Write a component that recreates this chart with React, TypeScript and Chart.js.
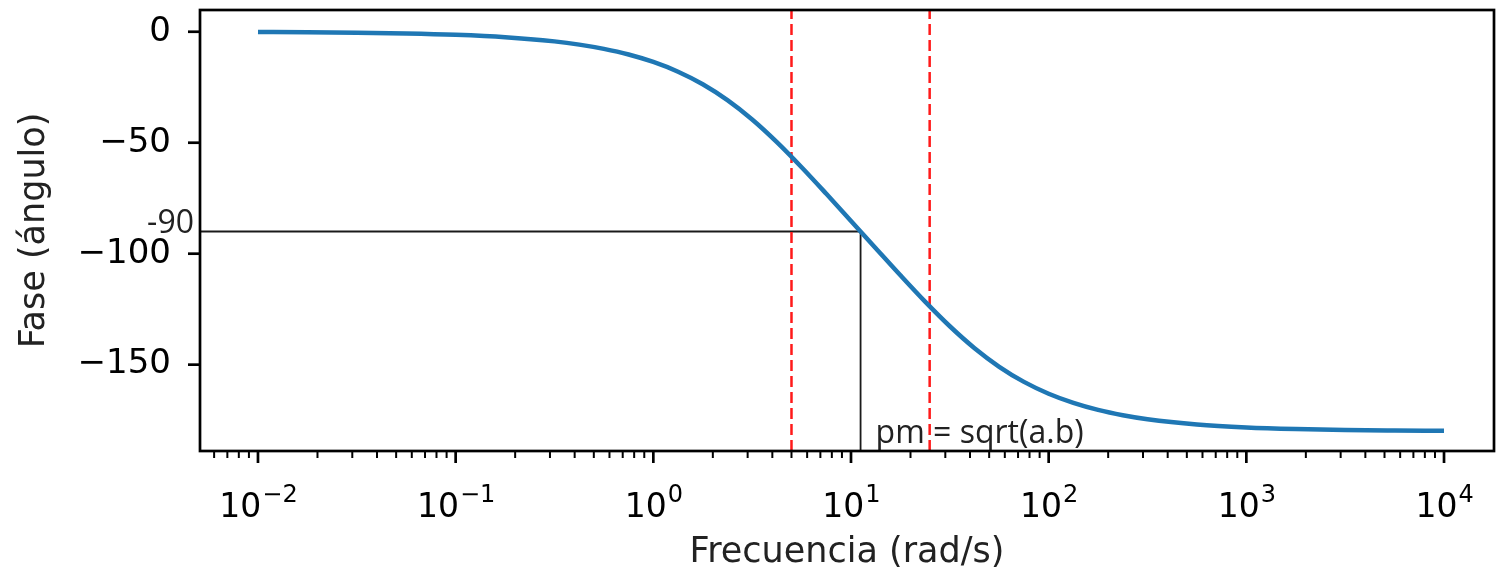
import React, { useEffect, useRef } from 'react';
import { Chart, registerables } from 'chart.js';

Chart.register(...registerables);

// Frequency (rad/s) sample points
const FREQUENCIES = [
  0.01, 0.0178, 0.0316, 0.0562, 0.1, 0.178, 0.316, 0.422, 0.562, 0.75,
  1, 1.334, 1.778, 2.371, 3.162, 4.217, 5.623, 7.5, 10, 13.34,
  17.78, 23.71, 31.62, 42.17, 56.23, 75, 100, 133.4, 177.8, 237.1,
  316.2, 562.3, 1000, 1778, 3162, 5623, 10000,
];
// Phase (degrees) read at those frequencies
const PHASE_DEG = [
  -0.14, -0.24, -0.43, -0.77, -1.38, -2.44, -4.34, -5.79, -7.71, -10.25,
  -13.6, -17.99, -23.65, -30.8, -39.52, -49.72, -61.03, -73.01, -85.24, -97.52,
  -109.72, -121.59, -132.69, -142.58, -150.95, -157.76, -163.1, -167.23, -170.39, -172.77,
  -174.57, -176.94, -178.28, -179.03, -179.46, -179.69, -179.83,
];

const X_TICKS = [0.01, 0.1, 1, 10, 100, 1000, 10000];
const X_TICK_BASE = '10';
const X_TICK_EXPONENTS = ['\u22122', '\u22121', '0', '1', '2', '3', '4'];
const Y_TICKS = [-150, -100, -50, 0];
const Y_TICK_LABELS = ['\u2212150', '\u2212100', '\u221250', '0'];

const CORNER_FREQS = [5, 25]; // a, b
const PM_FREQ = 11.18; // sqrt(a·b)
const PM_PHASE = -90;
const X_MIN = 0.00509;
const X_MAX = 17900;
const Y_MIN = -188.9;
const Y_MAX = 9.8;

const PM_LABEL = 'pm = sqrt(a.b)';
const PHASE_LABEL = '-90';
const X_TITLE = 'Frecuencia (rad/s)';
const Y_TITLE = 'Fase (\u00E1ngulo)';

const FONT = "'DejaVu Sans', sans-serif";
const NOTE_FONT = "'Open Sans', sans-serif";

const framePlugin = {
  id: 'frameTicks',
  afterDatasetsDraw(chart: any) {
    const { ctx, chartArea } = chart;
    const xs = chart.scales.x;
    const ys = chart.scales.y;
    ctx.save();
    // annotations
    ctx.fillStyle = '#222';
    ctx.font = `32px ${NOTE_FONT}`;
    ctx.textBaseline = 'alphabetic';
    ctx.textAlign = 'right';
    ctx.fillText(PHASE_LABEL, chartArea.left - 6, ys.getPixelForValue(PM_PHASE) + 2);
    ctx.textAlign = 'left';
    ctx.fillText(PM_LABEL, xs.getPixelForValue(PM_FREQ) + 15, chartArea.bottom - 8);

    // frame
    ctx.strokeStyle = '#000';
    ctx.lineWidth = 2.7;
    ctx.strokeRect(chartArea.left, chartArea.top, chartArea.right - chartArea.left, chartArea.bottom - chartArea.top);

    // y ticks
    for (const t of ys.ticks) {
      const y = ys.getPixelForValue(t.value);
      ctx.beginPath();
      ctx.moveTo(chartArea.left, y);
      ctx.lineTo(chartArea.left - 12, y);
      ctx.stroke();
    }
    // x major ticks + labels (10 with raised exponent)
    ctx.fillStyle = '#000';
    ctx.textAlign = 'left';
    xs.ticks.forEach((t: any, i: number) => {
      const x = xs.getPixelForValue(t.value);
      ctx.beginPath();
      ctx.moveTo(x, chartArea.bottom);
      ctx.lineTo(x, chartArea.bottom + 12);
      ctx.stroke();
      const exp = X_TICK_EXPONENTS[i];
      ctx.font = `33px ${FONT}`;
      const w1 = ctx.measureText(X_TICK_BASE).width;
      ctx.font = `24px ${FONT}`;
      const w2 = ctx.measureText(exp).width;
      const start = x - (w1 + w2) / 2;
      ctx.font = `33px ${FONT}`;
      ctx.fillText(X_TICK_BASE, start, chartArea.bottom + 66);
      ctx.font = `24px ${FONT}`;
      ctx.fillText(exp, start + w1 + 1, chartArea.bottom + 51);
    });
    // x minor ticks
    ctx.lineWidth = 2;
    for (let k = -3; k <= 4; k++) {
      for (let m = 2; m <= 9; m++) {
        const v = m * Math.pow(10, k);
        if (v < X_MIN || v > X_MAX) continue;
        const x = xs.getPixelForValue(v);
        ctx.beginPath();
        ctx.moveTo(x, chartArea.bottom);
        ctx.lineTo(x, chartArea.bottom + 7);
        ctx.stroke();
      }
    }
    ctx.restore();
  },
};

export default function App() {
  const ref = useRef<HTMLCanvasElement | null>(null);
  useEffect(() => {
    document.body.style.margin = '0';
    const canvas = ref.current;
    if (!canvas) return;
    const curve = FREQUENCIES.map((f, i) => ({ x: f, y: PHASE_DEG[i] }));
    const redSets = CORNER_FREQS.map((f) => ({
      data: [{ x: f, y: Y_MIN }, { x: f, y: Y_MAX }],
      borderColor: '#ff1a1a',
      borderWidth: 2.5,
      borderDash: [11, 5],
      pointRadius: 0,
      order: 2,
    }));
    const chart = new Chart(canvas, {
      type: 'line',
      data: {
        datasets: [
          {
            data: curve,
            borderColor: '#1f77b4',
            borderWidth: 4.5,
            pointRadius: 0,
            cubicInterpolationMode: 'monotone',
            order: 1,
          },
          ...redSets,
          {
            data: [
              { x: X_MIN, y: PM_PHASE },
              { x: PM_FREQ, y: PM_PHASE },
              { x: PM_FREQ, y: Y_MIN },
            ],
            borderColor: '#1a1a1a',
            borderWidth: 1.8,
            pointRadius: 0,
            order: 3,
          },
        ],
      } as any,
      options: {
        animation: false,
        responsive: false,
        events: [],
        layout: { padding: { top: 10, right: 5, left: 0, bottom: 0 } },
        plugins: { legend: { display: false }, tooltip: { enabled: false } },
        scales: {
          x: {
            type: 'logarithmic',
            min: X_MIN,
            max: X_MAX,
            grid: { display: false, drawTicks: false },
            border: { display: false },
            afterBuildTicks: (scale: any) => {
              scale.ticks = X_TICKS.map((v) => ({ value: v }));
            },
            afterFit: (scale: any) => {
              scale.height = 126;
              scale.paddingLeft = 0;
              scale.paddingRight = 0;
            },
            ticks: {
              display: false,
              autoSkip: false,
              maxRotation: 0,
            },
            title: {
              display: true,
              text: X_TITLE,
              color: '#222',
              font: { family: FONT, size: 35 },
              padding: { top: 0, bottom: 3 },
            },
          },
          y: {
            type: 'linear',
            min: Y_MIN,
            max: Y_MAX,
            grid: { display: false, drawTicks: false },
            border: { display: false },
            afterBuildTicks: (scale: any) => {
              scale.ticks = Y_TICKS.map((v) => ({ value: v }));
            },
            afterFit: (scale: any) => {
              scale.width = 200;
              scale.paddingTop = 0;
              scale.paddingBottom = 0;
            },
            ticks: {
              padding: 29,
              color: '#000',
              font: { family: FONT, size: 34 },
              callback: (v: any) => {
                const i = Y_TICKS.indexOf(Number(v));
                return i >= 0 ? Y_TICK_LABELS[i] : '';
              },
            },
            title: {
              display: true,
              text: Y_TITLE,
              color: '#222',
              font: { family: FONT, size: 35 },
              padding: { top: 14, bottom: 0 },
            },
          },
        },
      } as any,
      plugins: [framePlugin],
    });
    return () => chart.destroy();
  }, []);
  return (
    <div style={{ width: 1499, height: 577, overflow: 'hidden', background: '#fff' }}>
      <canvas ref={ref} width={1499} height={577} style={{ display: 'block' }} />
    </div>
  );
}
